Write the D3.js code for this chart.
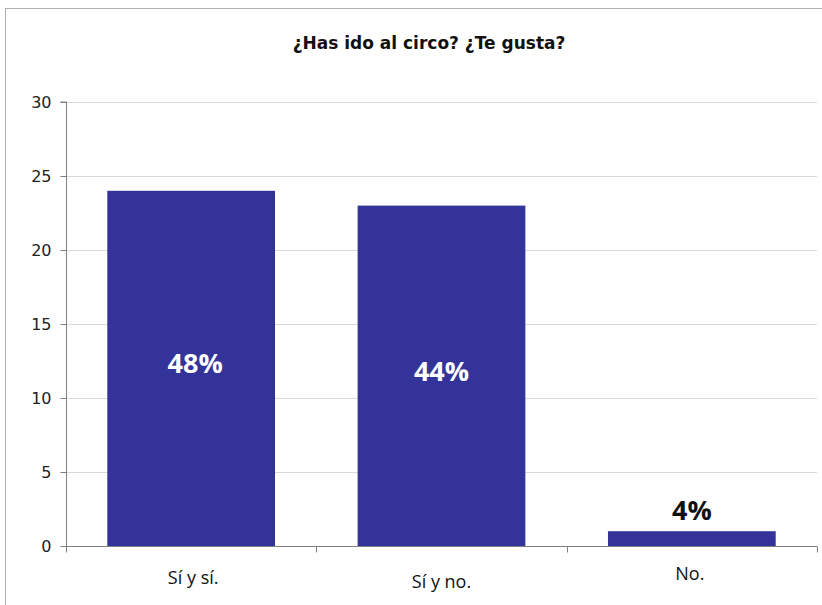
<!DOCTYPE html>
<html><head><meta charset="utf-8">
<script src="https://cdn.jsdelivr.net/npm/d3@7"></script>
<style>body{margin:0;background:#fff}svg{display:block}</style>
</head><body>
<script>
const categories = ["Sí y sí.", "Sí y no.", "No."];
const values = [24, 23, 1];
const pctLabels = ["48%", "44%", "4%"];
const yTicks = [0, 5, 10, 15, 20, 25, 30];
const title = "¿Has ido al circo? ¿Te gusta?";

const W = 822, H = 605;
const m = {left: 66, right: 5, top: 102, bottom: 59};
const svg = d3.select("body").append("svg").attr("width", W).attr("height", H);

// frame
svg.append("line").attr("x1",5).attr("x2",W).attr("y1",8.5).attr("y2",8.5).attr("stroke","#b0b0b0");
svg.append("line").attr("x1",5.5).attr("x2",5.5).attr("y1",8).attr("y2",H).attr("stroke","#b0b0b0");

const x = d3.scaleBand().domain(categories).range([m.left, 817]).paddingInner(0.33).paddingOuter(0.165);
const y = d3.scaleLinear().domain([0, 30]).range([546, 102]);

svg.append("text").attr("x", 429).attr("y", 49).attr("text-anchor","middle")
  .attr("font-family","'DejaVu Sans',sans-serif").attr("font-weight","bold")
  .attr("font-size",17).attr("fill","#111").text(title);

// gridlines
svg.append("g").selectAll("line").data(yTicks.filter(d=>d>0)).join("line")
  .attr("x1", m.left).attr("x2", 817).attr("y1", d=>Math.round(y(d))+0.5).attr("y2", d=>Math.round(y(d))+0.5)
  .attr("stroke","#d9d9d9");

// bars
svg.append("g").selectAll("rect").data(values).join("rect")
  .attr("x",(d,i)=>x(categories[i])).attr("width",x.bandwidth())
  .attr("y",d=>y(d)).attr("height",d=>y(0)-y(d)).attr("fill","#333399");

// y axis
const yAxis = svg.append("g").attr("transform",`translate(${m.left+0.5},0)`)
  .call(d3.axisLeft(y).tickValues(yTicks).tickSize(6).tickPadding(9));
yAxis.selectAll("path,line").attr("stroke","#808080");
yAxis.select(".domain").attr("d",`M-6,${y(30)}H0V${y(0)}`);
yAxis.selectAll("text").attr("font-family","'DejaVu Sans',sans-serif").attr("font-size",16).attr("fill","#222");

// x axis
const xAxisG = svg.append("g").attr("transform",`translate(0,${y(0)+0.5})`);
xAxisG.append("line").attr("x1",m.left).attr("x2",817).attr("stroke","#808080");
const bounds = [m.left, ...categories.map(c=>x(c)+x.bandwidth()+x.step()*x.paddingInner()/2)];
bounds[3] = 817;
xAxisG.selectAll("line.t").data(bounds).join("line").attr("class","t")
  .attr("x1",d=>Math.round(d)+0.5).attr("x2",d=>Math.round(d)+0.5).attr("y1",0).attr("y2",6).attr("stroke","#808080");
const catBase = [584, 588, 580];
svg.append("g").selectAll("text").data(categories).join("text")
  .attr("x",(d,i)=>x(d)+x.bandwidth()/2 + [2,0,-2][i]).attr("y",(d,i)=>catBase[i]).attr("text-anchor","middle")
  .attr("font-family","'Open Sans',sans-serif").attr("font-size",18).attr("fill","#111").text(d=>d);

// percentage labels
const lblBase = [373, 381, 520];
svg.append("g").selectAll("text").data(pctLabels).join("text")
  .attr("x",(d,i)=>x(categories[i])+x.bandwidth()/2 + [4,0,0][i]).attr("y",(d,i)=>lblBase[i]).attr("text-anchor","middle")
  .attr("font-family","'Open Sans',sans-serif").attr("font-weight","bold").attr("font-size",27)
  .attr("fill",(d,i)=>values[i]>5?"#fff":"#111").text(d=>d);
</script>
</body></html>
